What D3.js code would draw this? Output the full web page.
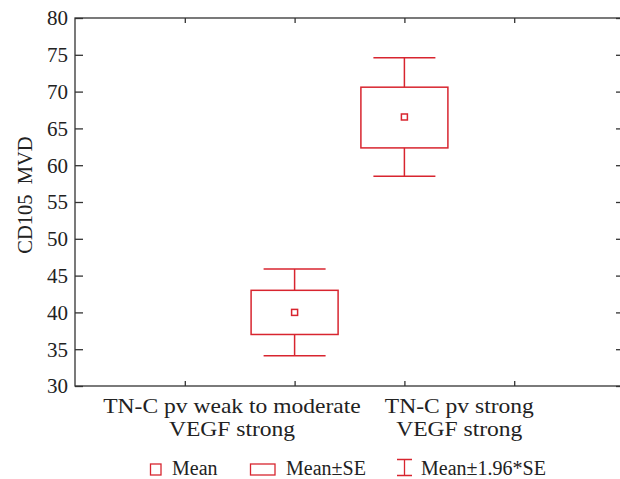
<!DOCTYPE html>
<html>
<head>
<meta charset="utf-8">
<script src="https://cdn.jsdelivr.net/npm/d3@7"></script>
<style>
  body { margin: 0; background: #fff; }
  text { font-family: "Liberation Serif", "DejaVu Serif", serif; fill: #222; }
</style>
</head>
<body>
<div id="chart"></div>
<script>
// groups and their summary stats
const groups = [["TN-C pv weak to moderate", "VEGF strong"], ["TN-C pv strong", "VEGF strong"]];
const groupPos = [2, 3];
const means = [40.0, 66.55];
const seLow = [37.0, 62.35];
const seHigh = [43.0, 70.6];
const ciLow = [34.1, 58.5];
const ciHigh = [45.9, 74.6];
const yTicks = [30, 35, 40, 45, 50, 55, 60, 65, 70, 75, 80];
const xTicks = [1, 2, 3, 4];

const width = 620, height = 479;
const margin = { top: 18, right: -4, bottom: 93, left: 75 };
const red = "#d8252f";

const svg = d3.select("#chart").append("svg")
  .attr("width", width).attr("height", height);

const x = d3.scaleLinear().domain([0, 5]).range([margin.left, width - margin.right]);
const y = d3.scaleLinear().domain([30, 80]).range([height - margin.bottom, margin.top]);

// frame
svg.append("rect")
  .attr("x", x(0)).attr("y", y(80))
  .attr("width", x(5) - x(0)).attr("height", y(30) - y(80))
  .attr("fill", "none").attr("stroke", "#333").attr("stroke-width", 1.3);

// y ticks, left and right, pointing inward
svg.append("g")
  .attr("transform", `translate(${x(0)},0)`)
  .call(d3.axisRight(y).tickValues(yTicks).tickSize(8).tickFormat(""))
  .call(g => g.select(".domain").remove())
  .selectAll("line").attr("stroke", "#333").attr("stroke-width", 1.3);

svg.append("g")
  .attr("transform", `translate(${x(5)},0)`)
  .call(d3.axisLeft(y).tickValues(yTicks).tickSize(8).tickFormat(""))
  .call(g => g.select(".domain").remove())
  .selectAll("line").attr("stroke", "#333").attr("stroke-width", 1.3);

// y labels
svg.append("g").selectAll("text")
  .data(yTicks).enter().append("text")
  .attr("x", x(0) - 7).attr("y", d => y(d)).attr("dy", "0.35em")
  .attr("text-anchor", "end").attr("font-size", 21)
  .text(d => d);

// x ticks, top and bottom, pointing inward
svg.append("g")
  .attr("transform", `translate(0,${y(30)})`)
  .call(d3.axisTop(x).tickValues(xTicks).tickSize(5).tickFormat(""))
  .call(g => g.select(".domain").remove())
  .selectAll("line").attr("stroke", "#333").attr("stroke-width", 1.3);

svg.append("g")
  .attr("transform", `translate(0,${y(80)})`)
  .call(d3.axisBottom(x).tickValues(xTicks).tickSize(5).tickFormat(""))
  .call(g => g.select(".domain").remove())
  .selectAll("line").attr("stroke", "#333").attr("stroke-width", 1.3);

// category labels (the original places them off-centre from the boxes)
const labelX = [x(1.43), x(3.5)];
const labelStretch = 1.07;
groups.forEach((lines, i) => {
  lines.forEach((s, j) => {
    const t = svg.append("text")
      .attr("x", labelX[i]).attr("y", y(30) + 27 + j * 23)
      .attr("text-anchor", "middle").attr("font-size", 22)
      .text(s);
    const w = t.node().getComputedTextLength();
    t.attr("textLength", w * labelStretch).attr("lengthAdjust", "spacingAndGlyphs");
  });
});

// y axis title
svg.append("text")
  .attr("transform", `translate(32,${(y(30) + y(80)) / 2 - 7}) rotate(-90)`)
  .attr("text-anchor", "middle").attr("font-size", 20.5)
  .attr("xml:space", "preserve")
  .text("CD105  MVD");

// boxes
const boxW = 87, capW = 62;
const plot = svg.append("g");
groupPos.forEach((p, i) => {
  const cx = x(p);
  // whisker stems
  plot.append("line").attr("x1", cx).attr("x2", cx)
    .attr("y1", y(ciHigh[i])).attr("y2", y(seHigh[i]))
    .attr("stroke", red).attr("stroke-width", 1.5);
  plot.append("line").attr("x1", cx).attr("x2", cx)
    .attr("y1", y(seLow[i])).attr("y2", y(ciLow[i]))
    .attr("stroke", red).attr("stroke-width", 1.5);
  // caps
  [ciHigh[i], ciLow[i]].forEach(v => {
    plot.append("line").attr("x1", cx - capW / 2).attr("x2", cx + capW / 2)
      .attr("y1", y(v)).attr("y2", y(v))
      .attr("stroke", red).attr("stroke-width", 1.5);
  });
  // SE box
  plot.append("rect")
    .attr("x", cx - boxW / 2).attr("y", y(seHigh[i]))
    .attr("width", boxW).attr("height", y(seLow[i]) - y(seHigh[i]))
    .attr("fill", "none").attr("stroke", red).attr("stroke-width", 1.5);
  // mean
  plot.append("rect")
    .attr("x", cx - 3).attr("y", y(means[i]) - 3)
    .attr("width", 6).attr("height", 6)
    .attr("fill", "none").attr("stroke", red).attr("stroke-width", 1.5);
});

// legend
const ly = 469.5;
const lb = 474.5;
const leg = svg.append("g");
leg.append("rect").attr("x", 150.5).attr("y", ly - 5.5).attr("width", 10.5).attr("height", 11)
  .attr("fill", "none").attr("stroke", red).attr("stroke-width", 1.3);
leg.append("text").attr("x", 172).attr("y", lb).attr("font-size", 20).text("Mean");

leg.append("rect").attr("x", 250.5).attr("y", ly - 5.5).attr("width", 24.5).attr("height", 11)
  .attr("fill", "none").attr("stroke", red).attr("stroke-width", 1.3);
leg.append("text").attr("x", 286).attr("y", lb).attr("font-size", 20).text("Mean±SE");

leg.append("path")
  .attr("d", `M397,${ly - 10}H412M404.5,${ly - 10}V${ly + 6}M397,${ly + 6}H412`)
  .attr("fill", "none").attr("stroke", red).attr("stroke-width", 1.3);
leg.append("text").attr("x", 421).attr("y", lb).attr("font-size", 20).text("Mean±1.96*SE");
</script>
</body>
</html>
